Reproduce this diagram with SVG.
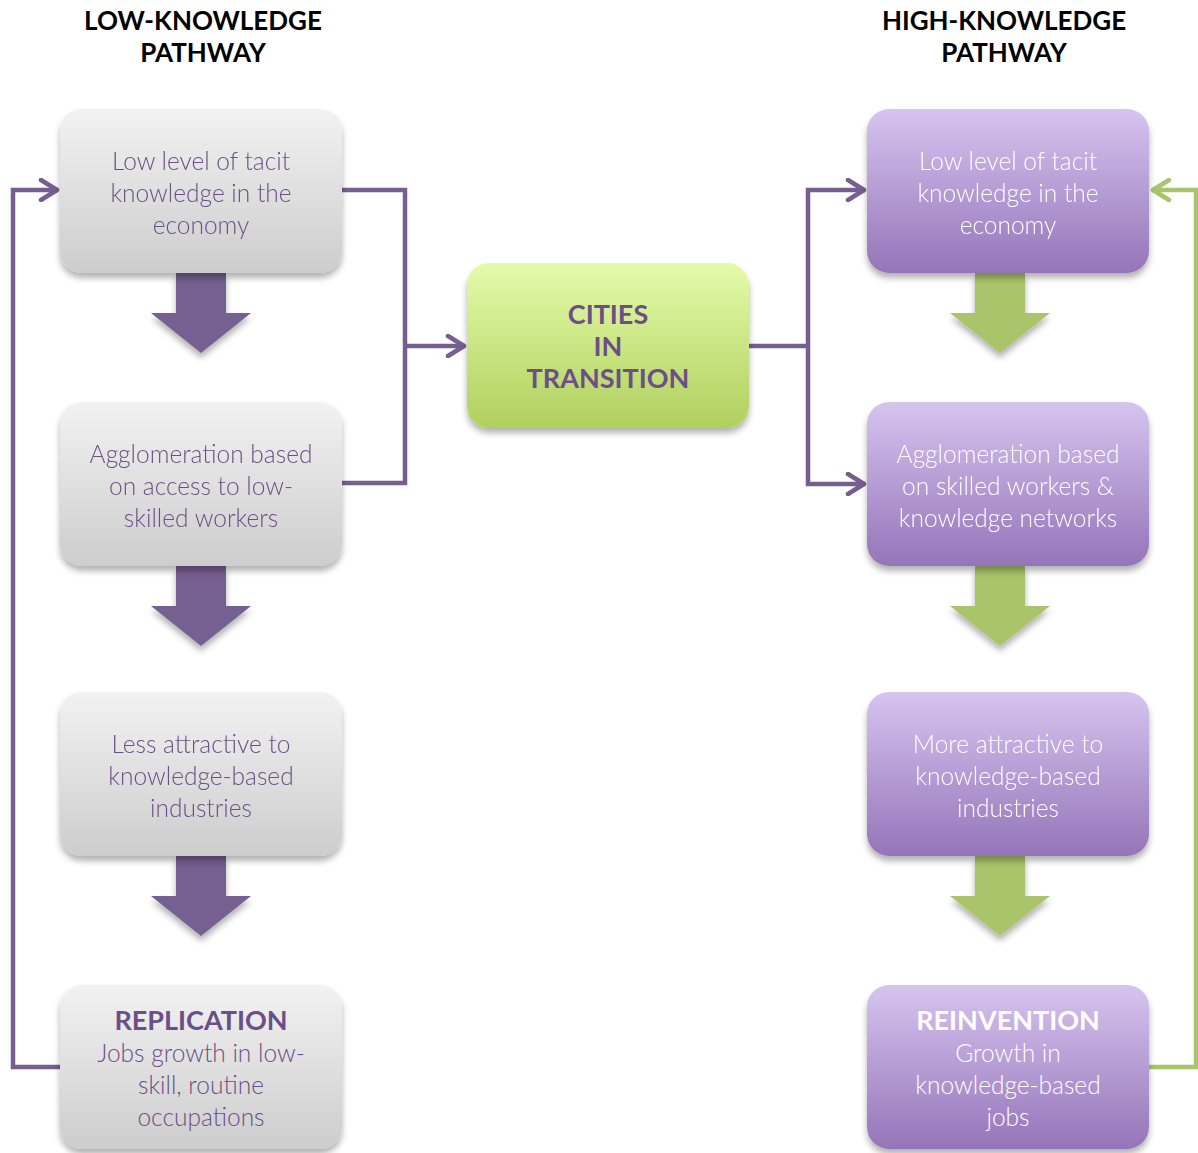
<svg xmlns="http://www.w3.org/2000/svg" width="1198" height="1153" viewBox="0 0 1198 1153">
<style>
.hdr{font-family:Lato,"Liberation Sans",sans-serif;font-weight:700;font-size:26px;fill:#000;text-anchor:middle}
.t{font-family:Lato,"Liberation Sans",sans-serif;font-weight:300;font-size:24.5px;text-anchor:middle}
.tg{fill:#6b4f86}
.tw{fill:#ffffff}
.b{font-weight:700;font-size:27px}
.conn{fill:none;stroke-width:4.5;stroke-linejoin:miter}
.cp{stroke:#765e91}
.cg{stroke:#a9c46a}
</style>
<defs>
<linearGradient id="gGray" x1="0" y1="0" x2="0" y2="1"><stop offset="0" stop-color="#f2f2f2"/><stop offset="1" stop-color="#cdcdcd"/></linearGradient>
<linearGradient id="gPur" x1="0" y1="0" x2="0" y2="1"><stop offset="0" stop-color="#d6c4ef"/><stop offset="1" stop-color="#9575b9"/></linearGradient>
<linearGradient id="gGrn" x1="0" y1="0" x2="0" y2="1"><stop offset="0" stop-color="#e4fbaa"/><stop offset="1" stop-color="#b0d05e"/></linearGradient>
<filter id="sh" x="-10%" y="-10%" width="120%" height="130%"><feDropShadow dx="0" dy="5" stdDeviation="3" flood-color="#000" flood-opacity="0.3"/></filter>
<marker id="ap" viewBox="0 0 22 24" refX="20" refY="12" markerWidth="22" markerHeight="24" markerUnits="userSpaceOnUse" orient="auto"><path d="M3,2 L19,12 L3,22" fill="none" stroke="#765e91" stroke-width="4.5" stroke-linecap="round" stroke-linejoin="round"/></marker>
<marker id="ag" viewBox="0 0 22 24" refX="20" refY="12" markerWidth="22" markerHeight="24" markerUnits="userSpaceOnUse" orient="auto"><path d="M3,2 L19,12 L3,22" fill="none" stroke="#a9c46a" stroke-width="4.5" stroke-linecap="round" stroke-linejoin="round"/></marker>
<path id="darrow" d="M-25,0 H25 V40 H50 L0,80 L-50,40 H-25 Z"/>
</defs>
<rect width="1198" height="1153" fill="#fff"/>

<g id="headers">
<text class="hdr" x="203" y="30">LOW-KNOWLEDGE</text>
<text class="hdr" x="203" y="62">PATHWAY</text>
<text class="hdr" x="1004" y="30">HIGH-KNOWLEDGE</text>
<text class="hdr" x="1004" y="62">PATHWAY</text>
</g>

<g id="connectors">
<path class="conn cp" d="M342,190 H405 V483 H342"/>
<path class="conn cp" d="M405,346 H465" marker-end="url(#ap)"/>
<path class="conn cp" d="M749,346 H808"/>
<path class="conn cp" d="M808,188 V486"/>
<path class="conn cp" d="M806,190 H865" marker-end="url(#ap)"/>
<path class="conn cp" d="M806,484 H865" marker-end="url(#ap)"/>
<path class="conn cp" d="M60,1067 H13 V190 H58" marker-end="url(#ap)"/>
<path class="conn cg" d="M1148,1067 H1196 V190 H1152" marker-end="url(#ag)"/>
<g fill="#765e91" filter="url(#sh)">
<use href="#darrow" x="201" y="273"/>
<use href="#darrow" x="201" y="566"/>
<use href="#darrow" x="201" y="856"/>
</g>
<g fill="#a9c46a" filter="url(#sh)">
<use href="#darrow" x="1000" y="273"/>
<use href="#darrow" x="1000" y="566"/>
<use href="#darrow" x="1000" y="856"/>
</g>
</g>

<g id="l1"><rect x="60" y="109" width="282" height="164" rx="22" fill="url(#gGray)" filter="url(#sh)"/>
<text class="t tg"><tspan x="201" y="170">Low level of tacit</tspan><tspan x="201" y="202">knowledge in the</tspan><tspan x="201" y="234">economy</tspan></text></g>
<g id="l2"><rect x="60" y="402" width="282" height="164" rx="22" fill="url(#gGray)" filter="url(#sh)"/>
<text class="t tg"><tspan x="201" y="463">Agglomeration based</tspan><tspan x="201" y="495">on access to low-</tspan><tspan x="201" y="527">skilled workers</tspan></text></g>
<g id="l3"><rect x="60" y="692" width="282" height="164" rx="22" fill="url(#gGray)" filter="url(#sh)"/>
<text class="t tg"><tspan x="201" y="753">Less attractive to</tspan><tspan x="201" y="785">knowledge-based</tspan><tspan x="201" y="817">industries</tspan></text></g>
<g id="l4"><rect x="60" y="985" width="282" height="164" rx="22" fill="url(#gGray)" filter="url(#sh)"/>
<text class="t tg"><tspan class="b" x="201" y="1030">REPLICATION</tspan><tspan x="201" y="1062">Jobs growth in low-</tspan><tspan x="201" y="1094">skill, routine</tspan><tspan x="201" y="1126">occupations</tspan></text></g>

<g id="center"><rect x="467" y="263" width="282" height="165" rx="22" fill="url(#gGrn)" filter="url(#sh)"/>
<text class="t tg b"><tspan x="608" y="324">CITIES</tspan><tspan x="608" y="356">IN</tspan><tspan x="608" y="388">TRANSITION</tspan></text></g>

<g id="r1"><rect x="867" y="109" width="282" height="164" rx="22" fill="url(#gPur)" filter="url(#sh)"/>
<text class="t tw"><tspan x="1008" y="170">Low level of tacit</tspan><tspan x="1008" y="202">knowledge in the</tspan><tspan x="1008" y="234">economy</tspan></text></g>
<g id="r2"><rect x="867" y="402" width="282" height="164" rx="22" fill="url(#gPur)" filter="url(#sh)"/>
<text class="t tw"><tspan x="1008" y="463">Agglomeration based</tspan><tspan x="1008" y="495">on skilled workers &amp;</tspan><tspan x="1008" y="527">knowledge networks</tspan></text></g>
<g id="r3"><rect x="867" y="692" width="282" height="164" rx="22" fill="url(#gPur)" filter="url(#sh)"/>
<text class="t tw"><tspan x="1008" y="753">More attractive to</tspan><tspan x="1008" y="785">knowledge-based</tspan><tspan x="1008" y="817">industries</tspan></text></g>
<g id="r4"><rect x="867" y="985" width="282" height="164" rx="22" fill="url(#gPur)" filter="url(#sh)"/>
<text class="t tw"><tspan class="b" x="1008" y="1030">REINVENTION</tspan><tspan x="1008" y="1062">Growth in</tspan><tspan x="1008" y="1094">knowledge-based</tspan><tspan x="1008" y="1126">jobs</tspan></text></g>
</svg>
